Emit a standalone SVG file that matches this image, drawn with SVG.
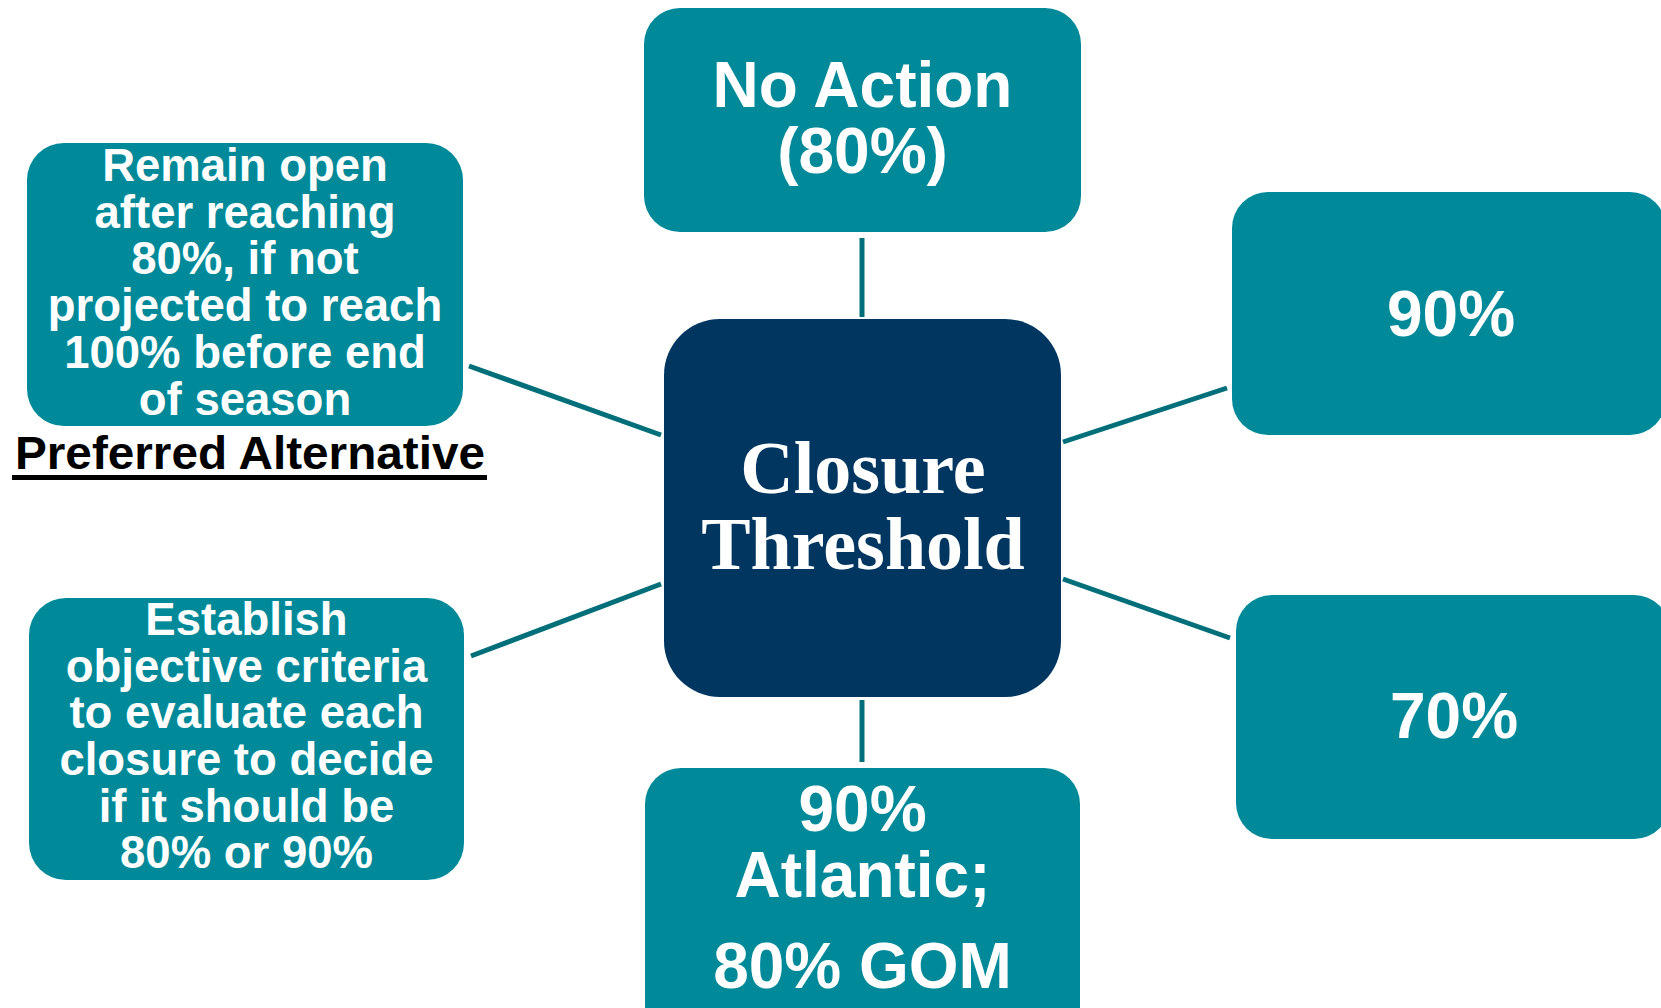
<svg xmlns="http://www.w3.org/2000/svg" width="1661" height="1008" viewBox="0 0 1661 1008">
<style>
.box{fill:#008A99;}
.core{fill:#003660;}
.t{font-family:"Liberation Sans",Arial,sans-serif;font-weight:bold;fill:#FFFFFF;text-anchor:middle;}
.s45{font-size:45.5px;}
.s62{font-size:64px;}
.serif{font-family:"Liberation Serif","Times New Roman",serif;font-weight:bold;font-size:74px;fill:#FFFFFF;text-anchor:middle;}
.conn line{stroke:#006F7A;stroke-width:5;stroke-linecap:butt;}
</style>
<rect width="1661" height="1008" fill="#FFFFFF"/>
<g class="conn" id="connectors">
<line x1="862" y1="238" x2="862" y2="317"/>
<line x1="862" y1="700" x2="862" y2="762"/>
<line x1="469" y1="366" x2="661" y2="435"/>
<line x1="471" y1="656" x2="661" y2="584"/>
<line x1="1063" y1="442" x2="1227" y2="388"/>
<line x1="1063" y1="579" x2="1230" y2="638"/>
</g>
<g id="center">
<rect class="core" x="664" y="319" width="397" height="378" rx="56" ry="56"/>
<text class="serif" x="863" y="493">Closure</text>
<text class="serif" x="863" y="569">Threshold</text>
</g>
<g id="noaction">
<rect class="box" x="644" y="8" width="437" height="224" rx="36" ry="36"/>
<text class="t s62" x="862.5" y="107">No Action</text>
<text class="t s62" x="862.5" y="173">(80%)</text>
</g>
<g id="ninety">
<rect class="box" x="1232" y="192" width="434" height="243" rx="36" ry="36"/>
<text class="t s62" x="1451" y="336">90%</text>
</g>
<g id="seventy">
<rect class="box" x="1236" y="595" width="434" height="244" rx="36" ry="36"/>
<text class="t s62" x="1454" y="738">70%</text>
</g>
<g id="split">
<rect class="box" x="645" y="768" width="435" height="280" rx="36" ry="36"/>
<text class="t s62" x="862.5" y="831">90%</text>
<text class="t s62" x="862.5" y="897">Atlantic;</text>
<text class="t s62" x="862.5" y="988">80% GOM</text>
</g>
<g id="remainopen">
<rect class="box" x="27" y="143" width="436" height="283" rx="37" ry="37"/>
<text class="t s45" x="245" y="181">Remain open</text>
<text class="t s45" x="245" y="228">after reaching</text>
<text class="t s45" x="245" y="274">80%, if not</text>
<text class="t s45" x="245" y="321">projected to reach</text>
<text class="t s45" x="245" y="368">100% before end</text>
<text class="t s45" x="245" y="415">of season</text>
</g>
<g id="preferred">
<text x="15" y="469" font-family="Liberation Sans,Arial,sans-serif" font-weight="bold" font-size="46" fill="#000000" textLength="470" lengthAdjust="spacingAndGlyphs">Preferred Alternative</text>
<rect x="12" y="475" width="475" height="5" fill="#000000"/>
</g>
<g id="criteria">
<rect class="box" x="29" y="598" width="435" height="282" rx="37" ry="37"/>
<text class="t s45" x="246.5" y="635">Establish</text>
<text class="t s45" x="246.5" y="682">objective criteria</text>
<text class="t s45" x="246.5" y="728">to evaluate each</text>
<text class="t s45" x="246.5" y="775">closure to decide</text>
<text class="t s45" x="246.5" y="822">if it should be</text>
<text class="t s45" x="246.5" y="868">80% or 90%</text>
</g>
</svg>
